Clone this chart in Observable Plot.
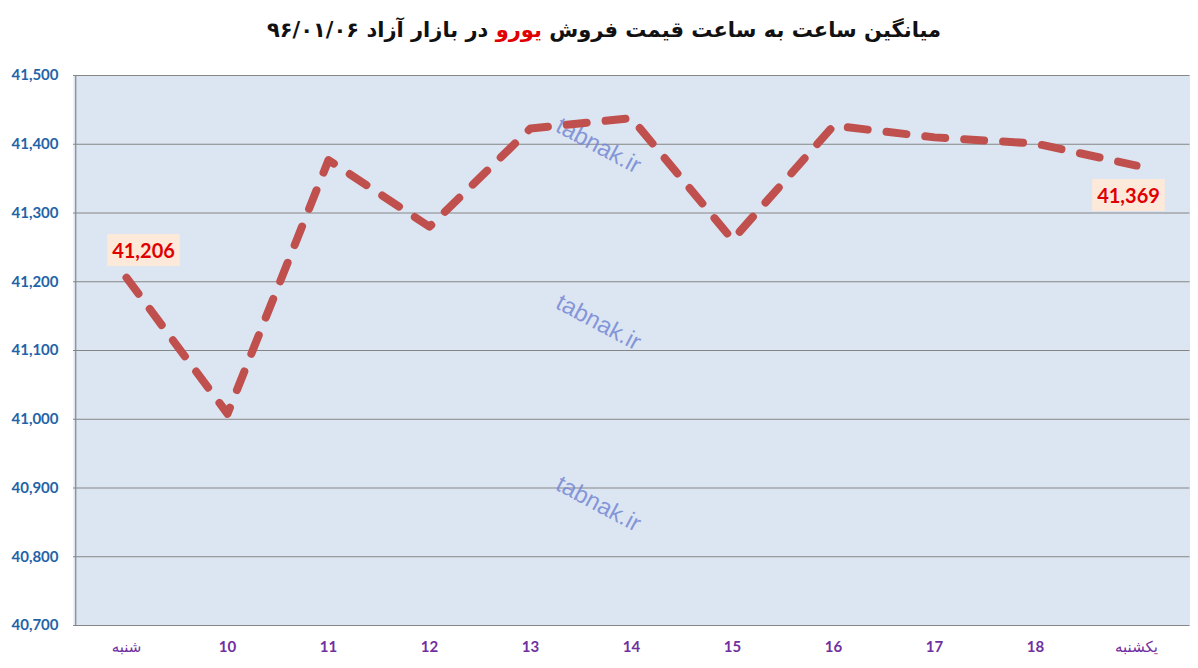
<!DOCTYPE html>
<html>
<head>
<meta charset="utf-8">
<script src="https://cdn.jsdelivr.net/npm/d3@7"></script>
<script src="https://cdn.jsdelivr.net/npm/@observablehq/plot@0.6"></script>
<style>
  body { margin: 0; background: #fff; }
  #title {
    height: 60px; line-height: 60px; text-align: center;
    font-family: "DejaVu Sans", sans-serif; font-weight: bold; font-size: 21px;
    color: #111; direction: rtl; padding-left: 10px;
  }
  #title .red { color: #e00000; }
</style>
</head>
<body>
<div id="title">میانگین ساعت به ساعت قیمت فروش <span class="red">یورو</span> در بازار آزاد ۹۶/۰۱/۰۶</div>
<div id="chart"></div>
<script>
// hours of the day (first and last are day names)
const hours = ['شنبه', '10', '11', '12', '13', '14', '15', '16', '17', '18', 'یکشنبه']
const prices = [41206, 41008, 41377, 41280, 41423, 41438, 41261, 41427, 41410, 41401, 41369]
const yTicks = [40700, 40800, 40900, 41000, 41100, 41200, 41300, 41400, 41500]

// watermark rows (price level they sit at)
const stampLevels = [41398, 41141, 40877]

const data = hours.map((h, i) => ({ hour: h, price: prices[i] }))
const first = data[0]
const last = data[data.length - 1]
const fmt = d3.format(',')

const step = (1189.5 - 73) / hours.length

let chart = Plot.plot({
  width: 1198,
  height: 608,
  marginTop: 15,
  marginBottom: 43,
  marginLeft: 73,
  marginRight: 8.5,
  style: { fontFamily: 'Lato, "DejaVu Sans", sans-serif', background: '#fff' },
  x: { type: 'point', domain: hours, padding: 0.5, label: null },
  y: { domain: [40700, 41500], label: null },
  marks: [
    Plot.frame({ fill: '#dce6f2', stroke: null }),
    Plot.ruleY(yTicks, { stroke: '#868686', strokeWidth: 1.2 }),
    Plot.ruleX([hours[0]], { dx: -step / 2, stroke: '#868686', strokeWidth: 1.2 }),
    Plot.axisY({
      ticks: yTicks, tickSize: 0, tickPadding: 15, tickFormat: fmt,
      fill: '#1f64a8', fontSize: 15, fontWeight: 'bold', label: null
    }),
    Plot.axisX({
      tickSize: 0, tickPadding: 16, fill: '#7030a0',
      fontSize: 15, fontWeight: 'bold', label: null
    }),
    Plot.text(stampLevels, {
      x: () => '14', y: d => d, dx: -33, text: () => 'tabnak.ir',
      rotate: 28, fill: '#7486d4', fillOpacity: 0.85, fontSize: 24,
      fontFamily: '"Liberation Sans", sans-serif'
    }),
    Plot.line(data, {
      x: 'hour', y: 'price', stroke: '#c0504d', strokeWidth: 8,
      strokeDasharray: '20 19', strokeLinecap: 'round', strokeLinejoin: 'round'
    }),
    Plot.text([first], {
      x: 'hour', y: 'price', text: d => fmt(d.price), dx: 17, dy: -26,
      fill: '#e00000', fontSize: 20, fontWeight: 'bold'
    }),
    Plot.text([last], {
      x: 'hour', y: 'price', text: d => fmt(d.price), dx: -8, dy: 31,
      fill: '#e00000', fontSize: 20, fontWeight: 'bold'
    })
  ]
})

d3.select('#chart').append(() => chart)

// day names on the x axis are not bold in the original
d3.select(chart).selectAll('text')
  .filter(function () { return this.textContent === hours[0] || this.textContent === hours[hours.length - 1] })
  .attr('font-weight', 'normal')
  .style('font-weight', 'normal')

// beige boxes behind the two value labels
const labelTexts = [fmt(first.price), fmt(last.price)]
d3.select(chart).selectAll('text')
  .filter(function () { return labelTexts.includes(this.textContent) })
  .each(function () {
    const b = this.getBBox()
    const node = this
    const rect = document.createElementNS('http://www.w3.org/2000/svg', 'rect')
    const t = node.getAttribute('transform')
    if (t) rect.setAttribute('transform', t)
    rect.setAttribute('x', b.x - 5)
    rect.setAttribute('y', b.y - 4)
    rect.setAttribute('width', b.width + 10)
    rect.setAttribute('height', b.height + 8)
    rect.setAttribute('fill', '#fde9d9')
    node.parentNode.insertBefore(rect, node)
  })
</script>
</body>
</html>
